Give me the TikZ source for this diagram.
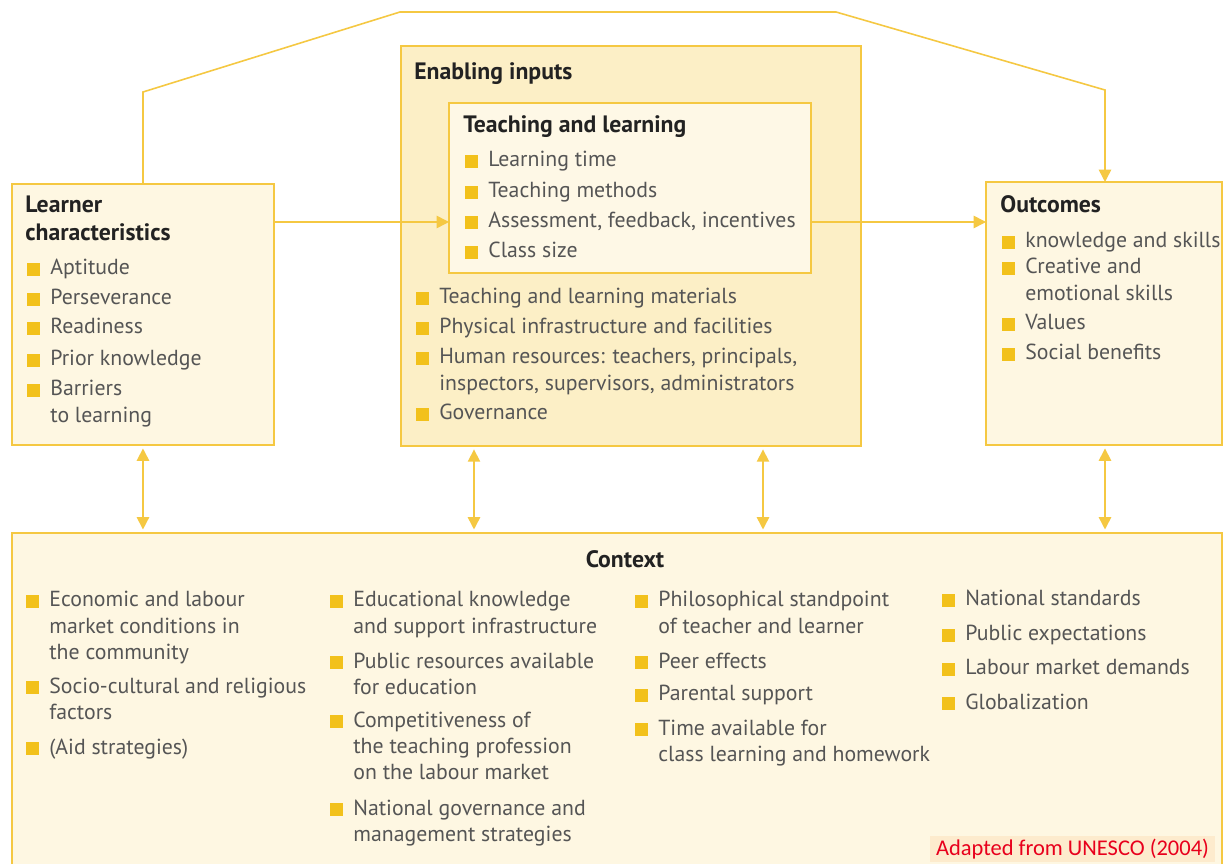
\documentclass[tikz,border=0pt]{standalone}
\usepackage{fontspec}
\setmainfont{PT Sans}
\newfontfamily\notefont{Carlito}
\usetikzlibrary{arrows.meta}
\definecolor{ln}{HTML}{F5C842}
\definecolor{bul}{HTML}{F2C11B}
\definecolor{fillA}{HTML}{FEF7E2}
\definecolor{fillE}{HTML}{FCEFC6}
\definecolor{fillT}{HTML}{FEF8E6}
\definecolor{txt}{HTML}{555555}
\definecolor{hd}{HTML}{222222}
\definecolor{notered}{HTML}{E8001C}
\definecolor{notefill}{HTML}{FDEBCD}
\tikzset{
  box/.style={draw=ln, line width=1.2pt, inner sep=0pt, outer sep=0pt, anchor=north west},
  itm/.style={anchor=base west, inner sep=0pt, text=txt, font=\fontsize{12.4}{15}\selectfont},
  hdg/.style={anchor=base west, inner sep=0pt, text=hd, font=\fontsize{13.5}{15.4}\selectfont\bfseries},
  conn/.style={draw=ln, line width=0.9pt},
  tip/.style={-{Triangle[length=7pt,width=7pt]}},
  dtip/.style={{Triangle[length=7pt,width=7pt]}-{Triangle[length=7pt,width=7pt]}}
}
\newcommand\bitem[4]{\node[itm] (#1) at (#2,#3) {\begin{tabular}[t]{@{}l@{}}#4\end{tabular}};\fill[bul] ({#2-23},{#3+1}) rectangle ++(13,-13);}
\begin{document}
\begin{tikzpicture}[x=0.02cm,y=-0.02cm]
\useasboundingbox (0,0) rectangle (1231,864);
\fill[white] (0,0) rectangle (1231,864);
% boxes
\node[box, fill=fillA, minimum width=5.24cm, minimum height=5.22cm] (L) at (12,184) {};
\node[box, fill=fillE, minimum width=9.2cm, minimum height=8.0cm] (E) at (401,46) {};
\node[box, fill=fillT, minimum width=7.24cm, minimum height=3.4cm] (T) at (449,103) {};
\node[box, fill=fillA, minimum width=4.72cm, minimum height=5.26cm] (O) at (986,182) {};
\node[box, fill=fillA, minimum width=24.2cm, minimum height=7.0cm] (C) at (12,533) {};
% headings
\node[hdg] (hL) at (25,213) {\begin{tabular}[t]{@{}l@{}}Learner\\characteristics\end{tabular}};
\node[hdg] (hE) at (414,80) {Enabling inputs};
\node[hdg] (hT) at (463,133) {Teaching and learning};
\node[hdg] (hO) at (1000,213) {Outcomes};
\node[hdg, anchor=base] (hC) at (625,568) {Context};
% learner items
\bitem{l1}{50}{275}{Aptitude}
\bitem{l2}{50}{305}{Perseverance}
\bitem{l3}{50}{334}{Readiness}
\bitem{l4}{50}{366}{Prior knowledge}
\bitem{l5}{50}{396}{Barriers\\to learning}
% teaching and learning
\bitem{t1}{488}{167}{Learning time}
\bitem{t2}{488}{198}{Teaching methods}
\bitem{t3}{488}{228}{Assessment, feedback, incentives}
\bitem{t4}{488}{258}{Class size}
% enabling
\bitem{e1}{439}{304}{Teaching and learning materials}
\bitem{e2}{439}{334}{Physical infrastructure and facilities}
\bitem{e3}{439}{364}{Human resources: teachers, principals,\\inspectors, supervisors, administrators}
\bitem{e4}{439}{420}{Governance}
% outcomes
\bitem{o1}{1025}{248}{knowledge and skills}
\bitem{o2}{1025}{274}{Creative and\\emotional skills}
\bitem{o3}{1025}{330}{Values}
\bitem{o4}{1025}{360}{Social benefits}
% context col 1
\bitem{c11}{49}{607}{Economic and labour\\market conditions in\\the community}
\bitem{c12}{49}{693}{Socio-cultural and religious\\factors}
\bitem{c13}{49}{754}{(Aid strategies)}
% col 2
\bitem{c21}{353}{607}{Educational knowledge\\and support infrastructure}
\bitem{c22}{353}{668}{Public resources available\\for education}
\bitem{c23}{353}{727}{Competitiveness of\\the teaching profession\\on the labour market}
\bitem{c24}{353}{815}{National governance and\\management strategies}
% col 3
\bitem{c31}{658}{607}{Philosophical standpoint\\of teacher and learner}
\bitem{c32}{658}{668}{Peer effects}
\bitem{c33}{658}{701}{Parental support}
\bitem{c34}{658}{735}{Time available for\\class learning and homework}
% col 4
\bitem{c41}{965}{606}{National standards}
\bitem{c42}{965}{641}{Public expectations}
\bitem{c43}{965}{675}{Labour market demands}
\bitem{c44}{965}{709}{Globalization}
% note
\node[fill=notefill, text=notered, minimum width=5.7cm, minimum height=0.52cm, inner sep=0pt, font=\notefont\fontsize{12.8}{14}\selectfont] (note) at (1072.5,849) {Adapted from UNESCO (2004)};
% connectors
\coordinate (p1) at (143,92);
\coordinate (p2) at (400,12);
\coordinate (p3) at (836,12);
\coordinate (p4) at (1105,90);
\coordinate (r) at (0,222);
\draw[conn, tip] (L.north) -- (p1) -- (p2) -- (p3) -- (p4) -- (O.north -| p4);
\draw[conn, tip] (L.east |- r) -- (T.west |- r);
\draw[conn, tip] (T.east |- r) -- (O.west |- r);
\coordinate (a2) at (474,0);
\coordinate (a3) at (763,0);
\draw[conn, dtip] ([yshift=-2pt]L.south) -- ([yshift=2pt]C.north -| L.south);
\draw[conn, dtip] ([yshift=-2pt]E.south -| a2) -- ([yshift=2pt]C.north -| a2);
\draw[conn, dtip] ([yshift=-2pt]E.south -| a3) -- ([yshift=2pt]C.north -| a3);
\draw[conn, dtip] ([yshift=-2pt]O.south -| p4) -- ([yshift=2pt]C.north -| p4);
\end{tikzpicture}
\end{document}
